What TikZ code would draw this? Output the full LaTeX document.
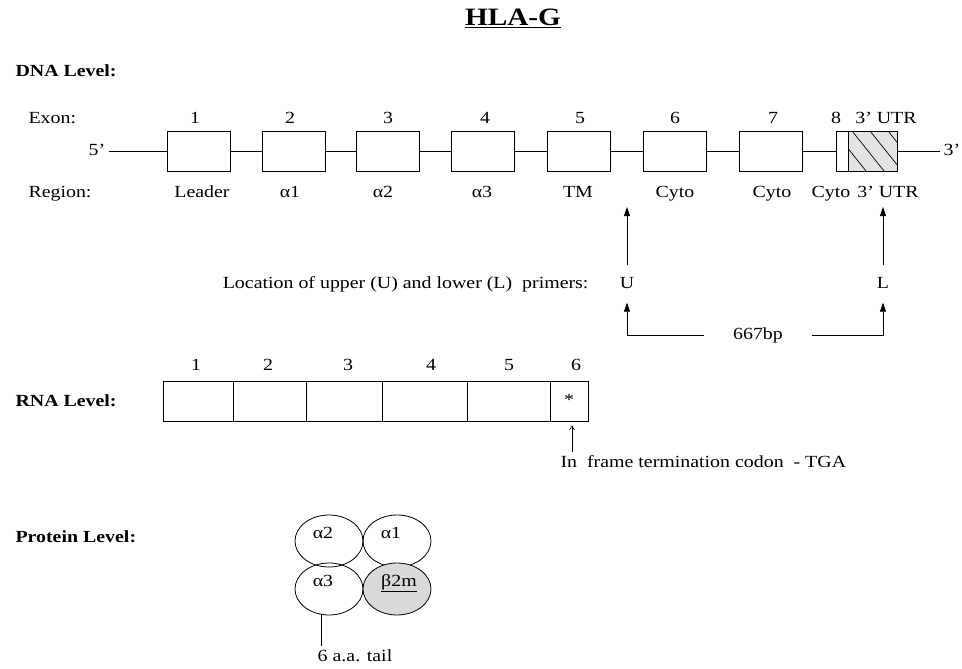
\documentclass[tikz,border=0pt]{standalone}
\usepackage{fontspec}
\setmainfont{Liberation Serif}[FakeStretch=1.17]
\usepackage{tikz}
\usetikzlibrary{arrows.meta, positioning, shapes.geometric}

\begin{document}
\begin{tikzpicture}[
    x=1pt, y=-1pt,
    >={Triangle[length=9pt,width=6pt]},
    font=\fontsize{17}{20}\selectfont,
    every node/.append style={text height=11.5pt, text depth=3.5pt},
    lvl/.style={font=\bfseries\fontsize{17}{20}\selectfont, anchor=west},
    rowlbl/.style={anchor=west},
    exon/.style={draw, fill=white, line width=0.9pt, minimum width=63, minimum height=40, inner sep=0pt},
    cell/.style={draw, line width=0.9pt, minimum height=40, inner sep=0pt},
    prot/.style={draw, ellipse, line width=0.8pt, minimum width=68, minimum height=52, inner sep=0pt},
    primlbl/.style={inner xsep=0pt, inner ysep=11pt},
    strand/.style={line width=0.9pt},
    primer/.style={->, line width=0.8pt},
    term/.style={-{Straight Barb[length=4pt,width=5pt]}, line width=0.6pt}
]
\useasboundingbox (0,0) rectangle (962,669);

\node[font=\bfseries\fontsize{25}{30}\selectfont, text height=17pt, text depth=5pt] (title) at (513,20) {\underline{HLA-G}};

% DNA
\node[lvl] (dna) at (12,73) {DNA Level:};
\node[rowlbl] (exonlbl) at (25,120) {Exon:};
\node[rowlbl] (reglbl) at (25,193) {Region:};

\node (p5) at (97,151) {5'};
\node (p3) at (952,151) {3'};
\draw[strand] (p5.east) -- (p3.west);

\node[exon] (e1) at (198.5,151) {};
\node[exon] (e2) at (293.5,151) {};
\node[exon] (e3) at (388,151) {};
\node[exon] (e4) at (482.5,151) {};
\node[exon] (e5) at (579,151) {};
\node[exon] (e6) at (675,151) {};
\node[exon] (e7) at (770.5,151) {};
\node[exon, minimum width=12] (e8) at (842,151) {};
\node[exon, minimum width=49, fill=gray!22,
      path picture={\foreach \d in {-14,4,22,40}
        \draw[line width=0.7pt] ([xshift=\d]path picture bounding box.north west) -- ++(32,40);}] (utr) at (872.5,151) {};

\node (n1) at (195,120) {1};
\node (n2) at (290,120) {2};
\node (n3) at (388,120) {3};
\node (n4) at (485,120) {4};
\node (n5) at (580,120) {5};
\node (n6) at (675,120) {6};
\node (n7) at (773,120) {7};
\node (n8) at (836,120) {8};
\node (n9) at (886,120) {3' UTR};

\node (r1) at (202,193) {Leader};
\node (r2) at (290,193) {α1};
\node (r3) at (383,193) {α2};
\node (r4) at (482,193) {α3};
\node (r5) at (578,193) {TM};
\node (r6) at (675,193) {Cyto};
\node (r7) at (772,193) {Cyto};
\node (r8) at (831,193) {Cyto};
\node (r9) at (888,193) {3' UTR};

% primers
\node[anchor=east] (loc) at (592,284) {Location of upper (U) and lower (L)\ \ primers:};
\node[primlbl] (U) at (627,284) {U};
\node[primlbl] (L) at (883,284) {L};
\coordinate (Utop) at (627,207);
\coordinate (Ltop) at (883,207);
\draw[primer] (U.north) -- (Utop);
\draw[primer] (L.north) -- (Ltop);

\node[inner xsep=29pt] (bp) at (758,335) {667bp};
\draw[primer] (bp.west) -| (U.south);
\draw[primer] (bp.east) -| (L.south);

% RNA
\node[lvl] (rna) at (12,402) {RNA Level:};
\node[cell, minimum width=70] (c1) at (198,401) {};
\node[cell, minimum width=73] (c2) at (269.5,401) {};
\node[cell, minimum width=76] (c3) at (344,401) {};
\node[cell, minimum width=85] (c4) at (424.5,401) {};
\node[cell, minimum width=83] (c5) at (508.5,401) {};
\node[cell, minimum width=38] (c6) at (569,401) {*};

\node (m1) at (196,366) {1};
\node (m2) at (268,366) {2};
\node (m3) at (348,366) {3};
\node (m4) at (431,366) {4};
\node (m5) at (509,366) {5};
\node (m6) at (576,366) {6};

\node[anchor=west] (stop) at (557,463) {In\ \ frame termination codon\ \ - TGA};
\draw[term, shorten >=4pt] ([xshift=3]c6.south |- stop.north) -- ([xshift=3]c6.south);

% protein
\node[lvl] (prt) at (12,538) {Protein Level:};
\node[prot] (a2) at (329,541) {};
\node[prot] (a1) at (397,541) {};
\node[prot] (a3) at (329,589) {};
\node[prot, fill=gray!30] (b2m) at (397,589) {};
\node at ([shift={(-6,-7)}]a2.center) {α2};
\node at ([shift={(-6,-7)}]a1.center) {α1};
\node at ([shift={(-6,-7)}]a3.center) {α3};
\node at ([shift={(2,-7)}]b2m.center) {\underline{β2m}};

\node (tail) at (355,657) {6 a.a. tail};
\draw[line width=0.8pt] ([xshift=-8]a3.south) -- ([xshift=-8]a3.south |- tail.north);

\end{tikzpicture}
\end{document}
